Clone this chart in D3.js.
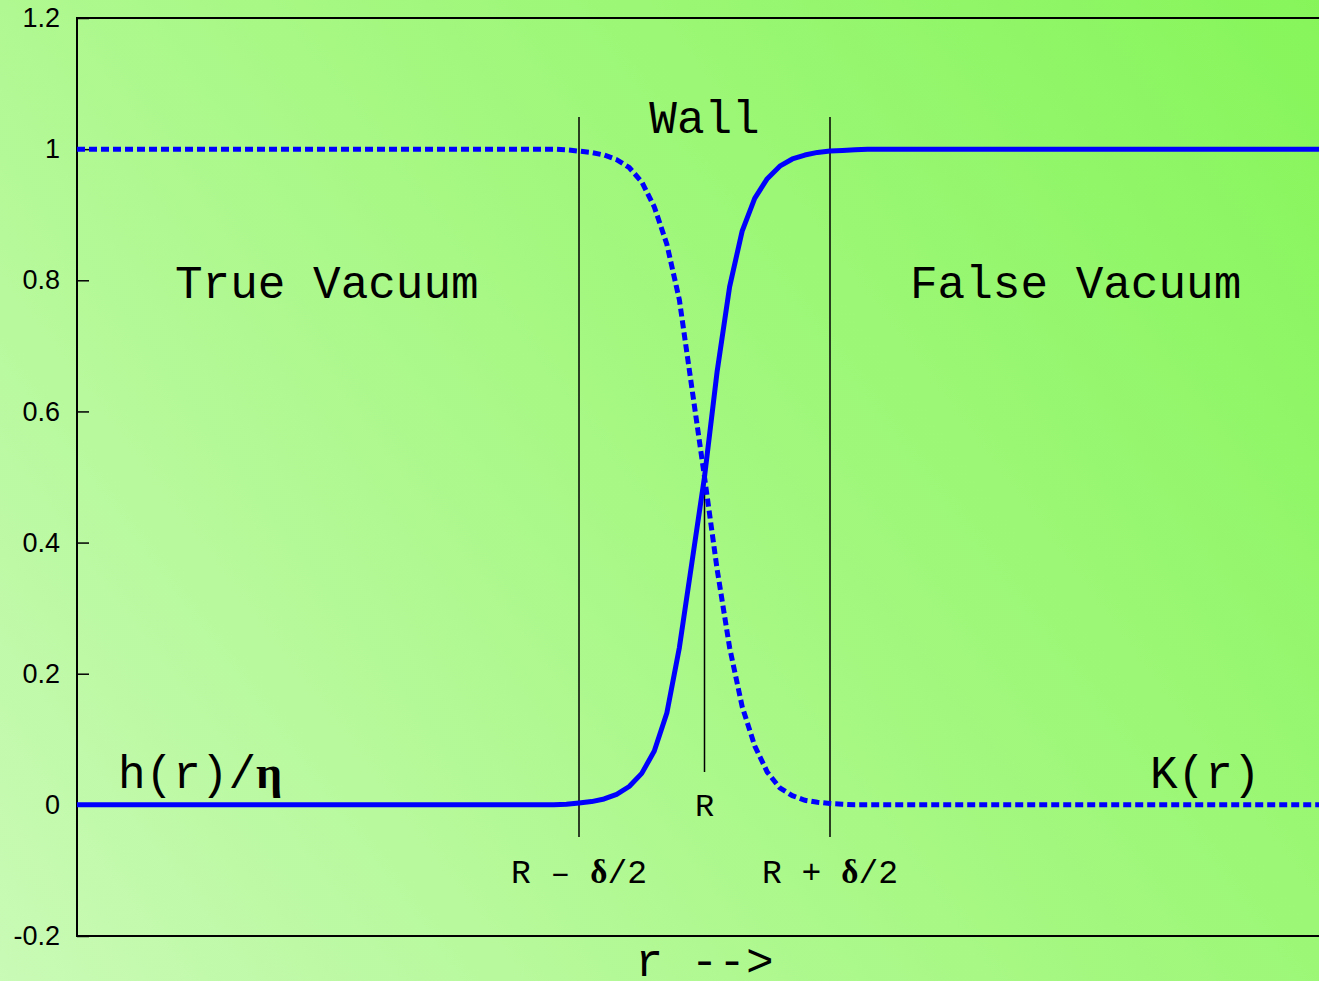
<!DOCTYPE html>
<html>
<head>
<meta charset="utf-8">
<script src="https://cdn.jsdelivr.net/npm/d3@7"></script>
<style>
  body { margin: 0; }
  #container { width: 1319px; height: 981px; }
  .lbl { font-family: "Courier New", "Liberation Mono", monospace; fill: #000; }
  .sym { font-family: "Liberation Serif", "DejaVu Serif", serif; font-weight: bold; }
</style>
</head>
<body>
<div id="container"></div>
<script>
// data (r in units where R = 50, delta = 20)
var rValues = [0, 36, 37, 38, 39, 40, 41, 42, 43, 44, 45, 46, 47, 48, 49, 50,
               51, 52, 53, 54, 55, 56, 57, 58, 59, 60, 61, 62, 63, 64, 100];
var hValues = [0, 0, 0, 0, 0.001, 0.003, 0.005, 0.009, 0.016, 0.028, 0.048, 0.082, 0.14, 0.24, 0.37, 0.5,
               0.66, 0.79, 0.875, 0.925, 0.955, 0.974, 0.985, 0.991, 0.995, 0.997, 0.998, 0.999, 1, 1, 1];
var kValues = [1, 1, 1, 1, 0.999, 0.997, 0.995, 0.991, 0.984, 0.972, 0.95, 0.912, 0.855, 0.77, 0.635, 0.5,
               0.36, 0.24, 0.15, 0.09, 0.05, 0.026, 0.014, 0.007, 0.004, 0.002, 0.001, 0, 0, 0, 0];
var yTicks = [-0.2, 0, 0.2, 0.4, 0.6, 0.8, 1, 1.2];
var wallR = 50, wallDelta = 20;

var width = 1319, height = 981;

var svg = d3.select("#container")
    .append("svg")
    .attr("width", width)
    .attr("height", height);

// background gradient
var grad = svg.append("defs").append("linearGradient")
    .attr("id", "bg")
    .attr("gradientUnits", "userSpaceOnUse")
    .attr("x1", 0).attr("y1", height)
    .attr("x2", width).attr("y2", 0);
grad.append("stop").attr("offset", 0).attr("stop-color", "#c9fab6");
grad.append("stop").attr("offset", 0.5).attr("stop-color", "#a6f883");
grad.append("stop").attr("offset", 1).attr("stop-color", "#86f55a");

svg.append("rect")
    .attr("width", width).attr("height", height)
    .attr("fill", "url(#bg)");

// scales
var x = d3.scaleLinear().domain([0, 100]).range([77, 1332]);
var y = d3.scaleLinear().domain([-0.2, 1.2]).range([936, 18]);

// y axis, ticks point inward
var yAxis = svg.append("g")
    .attr("transform", "translate(" + x(0) + ",0)")
    .call(d3.axisLeft(y)
        .tickValues(yTicks)
        .tickSizeInner(-12)
        .tickSizeOuter(0)
        .tickPadding(17)
        .tickFormat(function (d) { return String(+d.toFixed(1)); }));
yAxis.select(".domain").remove();
yAxis.selectAll(".tick line").attr("stroke", "#000").attr("stroke-width", 1.5);
yAxis.selectAll(".tick text")
    .attr("font-family", "Helvetica, Arial, 'Liberation Sans', sans-serif")
    .attr("font-size", 27)
    .attr("fill", "#000");

// frame (right edge is off the page)
svg.append("path")
    .attr("d", "M" + x(100) + "," + y(1.2) + "H" + x(0) + "V" + y(-0.2) + "H" + x(100))
    .attr("fill", "none")
    .attr("stroke", "#000")
    .attr("stroke-width", 2);

// wall markers
var marks = [
    { r: wallR - wallDelta / 2, top: 1.049, bottom: -0.049 },
    { r: wallR, top: 0.5, bottom: 0.05 },
    { r: wallR + wallDelta / 2, top: 1.049, bottom: -0.049 }
];
svg.selectAll(".mark")
    .data(marks)
    .enter()
    .append("line")
    .attr("class", "mark")
    .attr("x1", function (d) { return x(d.r); })
    .attr("x2", function (d) { return x(d.r); })
    .attr("y1", function (d) { return y(d.top); })
    .attr("y2", function (d) { return y(d.bottom); })
    .attr("stroke", "#000")
    .attr("stroke-width", 1.5);

// curves
var line = d3.line()
    .x(function (d) { return x(d[0]); })
    .y(function (d) { return y(d[1]); });

var hData = rValues.map(function (r, i) { return [r, hValues[i]]; });
var kData = rValues.map(function (r, i) { return [r, kValues[i]]; });

svg.append("path")
    .datum(kData)
    .attr("d", line)
    .attr("fill", "none")
    .attr("stroke", "#0000ff")
    .attr("stroke-width", 5)
    .attr("stroke-dasharray", "8,4");

svg.append("path")
    .datum(hData)
    .attr("d", line)
    .attr("fill", "none")
    .attr("stroke", "#0000ff")
    .attr("stroke-width", 5)
    .attr("stroke-linejoin", "round");

// labels
function label(txt, px, py, size, anchor) {
    var t = svg.append("text")
        .attr("class", "lbl")
        .attr("x", px)
        .attr("y", py)
        .attr("font-size", size)
        .attr("text-anchor", anchor || "start")
        .attr("xml:space", "preserve");
    txt.forEach(function (p) {
        t.append("tspan").attr("class", p.sym ? "sym" : null).text(p.t);
    });
    return t;
}

label([{ t: "Wall" }], x(wallR), 133, 46, "middle");
label([{ t: "True Vacuum" }], 175, 298, 46);
label([{ t: "False Vacuum" }], 910, 298, 46);
label([{ t: "h(r)/" }, { t: "η", sym: true }], 118, 788, 46);
label([{ t: "K(r)" }], 1150, 788, 46);
label([{ t: "R" }], x(wallR), 816, 32, "middle");
label([{ t: "R – " }, { t: "δ", sym: true }, { t: "/2" }], x(wallR - wallDelta / 2), 883, 33, "middle");
label([{ t: "R + " }, { t: "δ", sym: true }, { t: "/2" }], x(wallR + wallDelta / 2), 883, 33, "middle");
label([{ t: "r -->" }], x(wallR), 976, 46, "middle");
</script>
</body>
</html>
